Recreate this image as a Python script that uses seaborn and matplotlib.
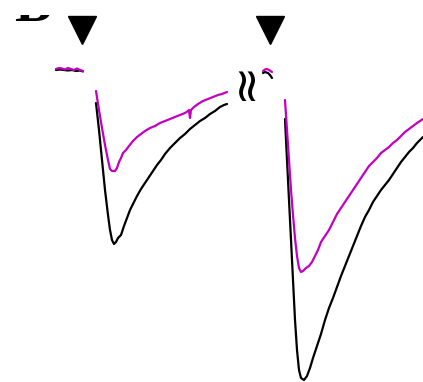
import matplotlib
matplotlib.use("Agg")
import matplotlib.pyplot as plt
from matplotlib.transforms import Bbox, TransformedBbox
import seaborn as sns
import pandas as pd

# Sweep 1: control (black) and drug (magenta) currents, time in ms, current in pA
base1_t_ctl = [56, 60, 64, 68, 72, 76, 80, 83]
base1_i_ctl = [0, 0.5, 0, -0.5, 0, -1, -0.5, -1.5]
base1_t_drug = [56, 59, 62, 65, 68, 71, 74, 77, 80, 83]
base1_i_drug = [1, 2, 1.5, 0.5, 2, 1, 0, 1.5, 0, -1]

resp1_t_ctl = [96, 99, 102, 105, 108, 110, 112, 114, 116, 118, 121, 124, 127, 130,
               133, 137, 141, 145, 149, 153, 157, 161, 165, 170, 175, 180, 185, 190,
               195, 200, 205, 210, 215, 220, 224, 227]
resp1_i_ctl = [-33, -60, -90, -120, -145, -160, -170, -174, -172, -168, -165, -156,
               -148, -140, -134, -126, -119, -113, -107, -101, -95, -90, -84, -78,
               -73, -68, -64, -59, -55, -51, -48, -44, -41, -37, -35, -34]
resp1_t_drug = [96, 99, 102, 105, 108, 110, 112, 115, 117, 119, 121, 123, 126, 129,
                133, 137, 141, 145, 150, 155, 160, 165, 170, 175, 180, 185, 188, 189,
                190, 191, 194, 198, 203, 208, 213, 218, 222, 227]
resp1_i_drug = [-21, -40, -58, -75, -90, -99, -101, -101, -98, -92, -88, -83, -80,
                -76, -71, -67, -64, -61, -58, -56, -53, -51, -49, -47, -45, -43, -41,
                -40, -48, -40, -37, -34, -31, -29, -27, -25, -24, -22]

# Sweep 2
base2_t_ctl = [263, 265, 268, 270, 272]
base2_i_ctl = [-3, -2, -3, -5, -8]
base2_t_drug = [263, 265, 267, 269, 272]
base2_i_drug = [-1, 0.5, 1, 0, -2]

resp2_t_ctl = [285, 287, 289, 291, 293, 295, 297, 299, 301, 304, 307, 310, 313, 317,
               321, 325, 329, 333, 337, 341, 345, 349, 353, 357, 361, 365, 369, 373,
               377, 381, 385, 389, 393, 397, 401, 405, 409, 413, 417, 423]
resp2_i_ctl = [-49, -90, -130, -170, -210, -250, -280, -300, -308, -310, -306, -298,
               -288, -276, -264, -250, -238, -228, -217, -206, -196, -186, -176, -166,
               -156, -147, -140, -132, -126, -120, -115, -110, -104, -98, -92, -87,
               -82, -78, -73, -67]
resp2_t_drug = [285, 287, 289, 291, 293, 295, 297, 299, 301, 303, 306, 309, 312, 315,
                318, 321, 325, 329, 333, 337, 341, 345, 349, 353, 357, 361, 365, 369,
                373, 377, 381, 385, 389, 393, 397, 401, 405, 409, 413, 417, 423]
resp2_i_drug = [-30, -60, -90, -120, -145, -168, -186, -198, -202, -201, -198, -196,
                -192, -186, -180, -172, -166, -160, -152, -144, -138, -132, -126, -120,
                -114, -108, -102, -96, -92, -88, -83, -80, -77, -73, -70, -66, -62,
                -59, -56, -53, -49]

stim_times = [82, 270]

CTL = "black"
DRUG = "#c200c2"

sns.set_style("white")
fig = plt.figure(figsize=(4.23, 3.82), dpi=100)
ax = fig.add_axes([0, 0, 1, 1])

segments = [
    (base1_t_ctl, base1_i_ctl, CTL), (resp1_t_ctl, resp1_i_ctl, CTL),
    (base2_t_ctl, base2_i_ctl, CTL), (resp2_t_ctl, resp2_i_ctl, CTL),
    (base1_t_drug, base1_i_drug, DRUG), (resp1_t_drug, resp1_i_drug, DRUG),
    (base2_t_drug, base2_i_drug, DRUG), (resp2_t_drug, resp2_i_drug, DRUG),
]
for t, i, c in segments:
    df = pd.DataFrame({"t": t, "i": i})
    sns.lineplot(data=df, x="t", y="i", color=c, lw=1.6, sort=False,
                 estimator=None, ax=ax)

# stimulus markers
ax.plot(stim_times, [39.5] * len(stim_times), linestyle="none", marker="v",
        markersize=20, color="black")

# axis break between the two sweeps
ax.text(246, -10, "≈", rotation=90, ha="center", va="center", fontsize=34,
        color="black")

# panel letter, trimmed so only its lower edge shows
letter = ax.text(14, 49, "B", ha="left", va="baseline", fontsize=40,
                 fontweight="bold", family="Liberation Serif", color="black")
letter.set_clip_on(True)
letter.set_clip_box(TransformedBbox(Bbox([[0, 40], [120, 55]]), ax.transData))

ax.set_xlim(0, 423)
ax.set_ylim(-312, 70)
ax.axis("off")

fig.savefig("out.png", dpi=100)
